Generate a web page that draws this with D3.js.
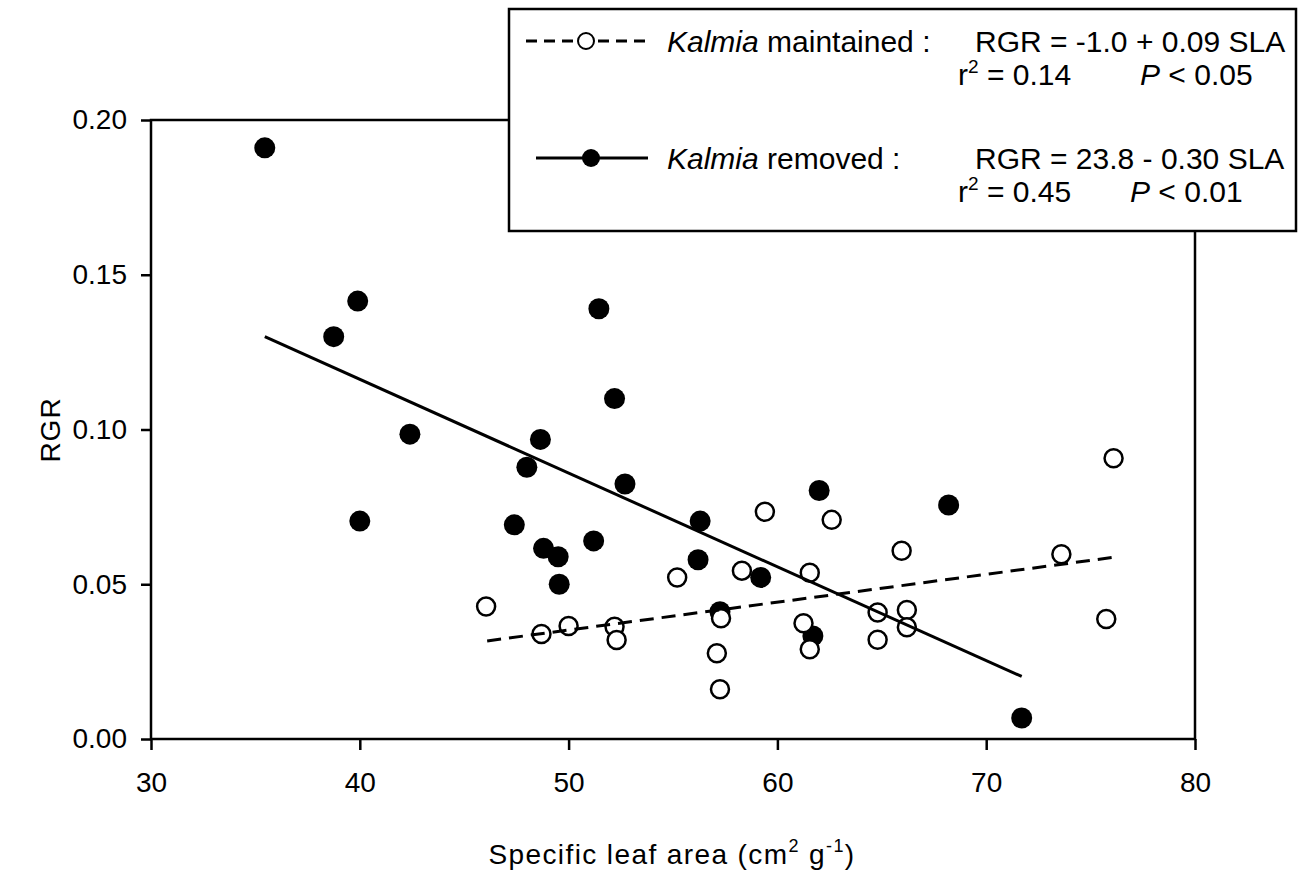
<!DOCTYPE html>
<html>
<head>
<meta charset="utf-8">
<script src="https://cdn.jsdelivr.net/npm/d3@7"></script>
<style>
  body { margin: 0; background: #fff; }
  svg { display: block; }
  text { font-family: Arial, "Liberation Sans", sans-serif; fill: #000; }
</style>
</head>
<body>
<svg id="chart" width="1298" height="883"></svg>
<script>
// Kalmia removed (filled circles)
const removedSLA = [35.45, 38.75, 39.9, 40.0, 42.4, 48.0, 48.65, 47.4, 48.8, 49.5, 49.55, 51.2, 51.45, 52.2, 52.7, 56.3, 56.2, 57.25, 59.2, 61.7, 62.0, 68.2, 71.7];
const removedRGR = [0.191, 0.130, 0.1415, 0.0704, 0.0985, 0.0878, 0.0968, 0.0692, 0.0616, 0.0589, 0.0500, 0.0640, 0.139, 0.110, 0.0824, 0.0704, 0.0579, 0.0411, 0.0522, 0.0333, 0.0803, 0.0756, 0.0068];

// Kalmia maintained (open circles)
const maintainedSLA = [46.05, 48.7, 50.0, 52.2, 52.3, 55.2, 57.1, 57.25, 57.3, 58.3, 59.4, 61.25, 61.55, 61.55, 62.6, 64.8, 64.8, 65.95, 66.2, 66.2, 73.6, 75.75, 76.1];
const maintainedRGR = [0.0428, 0.0339, 0.0365, 0.0363, 0.0320, 0.0522, 0.0277, 0.0161, 0.0390, 0.0544, 0.0734, 0.0374, 0.0537, 0.0290, 0.0708, 0.0409, 0.0321, 0.0608, 0.0417, 0.0361, 0.0597, 0.0388, 0.0907];

// regression lines, end points
const removedFitSLA = [35.45, 71.7];
const removedFitRGR = [0.130, 0.0202];
const maintainedFitSLA = [46.1, 76.1];
const maintainedFitRGR = [0.0317, 0.0587];

const xTicks = [30, 40, 50, 60, 70, 80];
const yTicks = [0, 0.05, 0.10, 0.15, 0.20];

const svg = d3.select("#chart");
const plotLeft = 151, plotRight = 1195, plotTop = 120, plotBottom = 739;

const x = d3.scaleLinear().domain([30, 80]).range([plotLeft, plotRight]);
const y = d3.scaleLinear().domain([0, 0.20]).range([plotBottom, plotTop]);

// frame
svg.append("rect")
    .attr("x", plotLeft).attr("y", plotTop)
    .attr("width", plotRight - plotLeft).attr("height", plotBottom - plotTop)
    .attr("fill", "none").attr("stroke", "#000").attr("stroke-width", 2.5);

// axes
const xAxis = svg.append("g")
    .attr("transform", `translate(0,${plotBottom})`)
    .call(d3.axisBottom(x).tickValues(xTicks).tickFormat(d3.format("d"))
        .tickSize(11).tickSizeOuter(0).tickPadding(22));
const yAxis = svg.append("g")
    .attr("transform", `translate(${plotLeft},0)`)
    .call(d3.axisLeft(y).tickValues(yTicks).tickFormat(d3.format(".2f"))
        .tickSize(10).tickSizeOuter(0).tickPadding(14));

[xAxis, yAxis].forEach(g => {
    g.select(".domain").remove();
    g.selectAll(".tick line").attr("stroke", "#000").attr("stroke-width", 2.5);
    g.selectAll(".tick text").attr("fill", "#000")
        .style("font-size", "28px").style("font-family", "Arial, 'Liberation Sans', sans-serif");
});

// points
const removed = removedSLA.map((s, i) => ({ sla: s, rgr: removedRGR[i] }));
const maintained = maintainedSLA.map((s, i) => ({ sla: s, rgr: maintainedRGR[i] }));

svg.append("g").selectAll("circle")
    .data(removed).join("circle")
    .attr("cx", d => x(d.sla)).attr("cy", d => y(d.rgr))
    .attr("r", 10.5).attr("fill", "#000");

svg.append("g").selectAll("circle")
    .data(maintained).join("circle")
    .attr("cx", d => x(d.sla)).attr("cy", d => y(d.rgr))
    .attr("r", 9).attr("fill", "#fff").attr("stroke", "#000").attr("stroke-width", 2.5);

// fit lines
const line = d3.line().x(d => x(d[0])).y(d => y(d[1]));
svg.append("path")
    .attr("d", line(removedFitSLA.map((s, i) => [s, removedFitRGR[i]])))
    .attr("fill", "none").attr("stroke", "#000").attr("stroke-width", 3);
svg.append("path")
    .attr("d", line(maintainedFitSLA.map((s, i) => [s, maintainedFitRGR[i]])))
    .attr("fill", "none").attr("stroke", "#000").attr("stroke-width", 3)
    .attr("stroke-dasharray", "14,8");

// axis titles
svg.append("text")
    .attr("transform", "translate(50,430) rotate(-90)")
    .attr("text-anchor", "middle").attr("dy", "0.35em")
    .style("font-size", "28px").style("letter-spacing", "1px")
    .text("RGR");

const xt = svg.append("text")
    .attr("x", 672).attr("y", 864)
    .attr("text-anchor", "middle")
    .style("font-size", "28px").style("letter-spacing", "1.4px");
xt.append("tspan").text("Specific leaf area (cm");
xt.append("tspan").attr("dy", -12).style("font-size", "18px").text("2");
xt.append("tspan").attr("dy", 12).text("  g");
xt.append("tspan").attr("dy", -12).style("font-size", "18px").text("-1");
xt.append("tspan").attr("dy", 12).text(")");

// legend
const lg = svg.append("g");
lg.append("rect")
    .attr("x", 509).attr("y", 9).attr("width", 787).attr("height", 222)
    .attr("fill", "#fff").attr("stroke", "#000").attr("stroke-width", 2.5);

lg.append("line").attr("x1", 526).attr("x2", 645).attr("y1", 41).attr("y2", 41)
    .attr("stroke", "#000").attr("stroke-width", 3).attr("stroke-dasharray", "11,7");
lg.append("circle").attr("cx", 586).attr("cy", 41).attr("r", 8)
    .attr("fill", "#fff").attr("stroke", "#000").attr("stroke-width", 2);
lg.append("line").attr("x1", 536).attr("x2", 648).attr("y1", 158).attr("y2", 158)
    .attr("stroke", "#000").attr("stroke-width", 3);
lg.append("circle").attr("cx", 591).attr("cy", 158).attr("r", 9).attr("fill", "#000");

const legendRows = [
    { y: 52, name: " maintained :", eq: "RGR = -1.0 + 0.09 SLA", r2: "0.14", p: "< 0.05", px: 1140 },
    { y: 169, name: " removed :", eq: "RGR = 23.8 - 0.30 SLA", r2: "0.45", p: "< 0.01", px: 1130 }
];
legendRows.forEach(row => {
    const t = lg.append("text").attr("x", 667).attr("y", row.y).style("font-size", "30px");
    t.append("tspan").style("font-style", "italic").text("Kalmia");
    t.append("tspan").text(row.name);
    lg.append("text").attr("x", 975).attr("y", row.y).style("font-size", "30px").text(row.eq);
    const r = lg.append("text").attr("x", 958).attr("y", row.y + 33).style("font-size", "30px");
    r.append("tspan").text("r");
    r.append("tspan").attr("dy", -12).style("font-size", "19px").text("2");
    r.append("tspan").attr("dy", 12).text(" = " + row.r2);
    const p = lg.append("text").attr("x", row.px).attr("y", row.y + 33).style("font-size", "30px");
    p.append("tspan").style("font-style", "italic").text("P");
    p.append("tspan").text(" " + row.p);
});
</script>
</body>
</html>
